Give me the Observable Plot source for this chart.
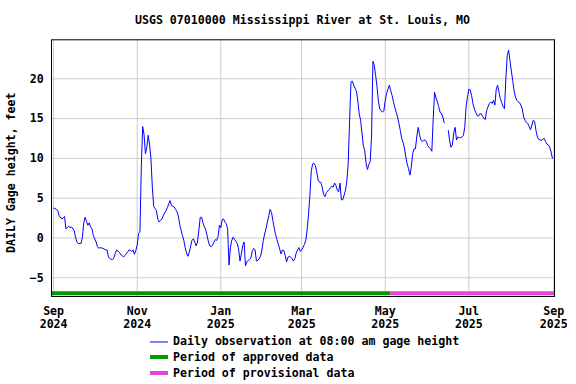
<!DOCTYPE html>
<html><head><meta charset="utf-8">
<script src="https://cdn.jsdelivr.net/npm/d3@7"></script>
<script src="https://cdn.jsdelivr.net/npm/@observablehq/plot@0.6"></script>
<style>
body{margin:0;background:#fff;}
#wrap{width:576px;height:384px;position:relative;overflow:hidden;background:#fff;
  font-family:"DejaVu Sans Mono",monospace;font-weight:bold;font-size:11.6px;color:#000}
#title{position:absolute;left:51px;width:503px;top:13px;line-height:14px;text-align:center;white-space:nowrap}
#chart{position:absolute;left:0;top:0}
#legend{position:absolute;left:150px;top:333px}
.row{height:16px;display:flex;align-items:center;white-space:nowrap}
.sw{width:18px;margin-right:5px}
</style></head>
<body>
<div id="wrap">
  <div id="chart"></div>
  <div id="title"></div>
  <div id="legend"></div>
</div>
<script>
const titleText = "USGS 07010000 Mississippi River at St. Louis, MO";
const yLabel = "DAILY Gage height, feet";

// days since 2024-09-01 and daily gage height (feet); null = missing record
const dayIndex = [0,1,3,4,6,7,8,9,10,11,12,13,15,16,17,18,20,21,22,23,24,25,26,27,28,29,31,32,33,34,36,38,39,40,42,43,44,45,46,48,49,50,51,52,54,55,56,57,58,59,60,61,62,63,64,65,66,67,68,69,70,71,72,73,74,75,76,77,78,79,80,82,83,84,85,86,88,89,90,91,92,
93,94,95,96,97,98,99,100,101,102,103,104,105,106,107,108,109,110,111,112,113,114,115,116,117,118,119,120,121,122,123,124,125,126,127,128,129,130,131,132,133,134,135,136,137,138,139,140,141,142,143,144,145,146,147,148,149,150,151,152,153,154,155,156,157,158,159,160,161,162,163,164,165,166,167,168,169,170,171,172,173,174,175,176,177,178,179,
180,181,182,183,184,185,186,187,188,189,190,191,192,193,194,195,196,197,198,199,200,201,202,203,204,205,206,207,208,209,210,211,212,213,214,215,216,217,218,219,220,221,222,223,224,225,226,227,228,229,230,231,232,233,234,235,236,237,238,239,240,241,242,243,244,245,246,247,248,249,250,251,252,253,254,255,256,257,258,259,260,261,262,263,264,265,266,267,268,269,270,271,272,273,274,275,276,277,278,279,280,281,282,283,284,285,286,287,
288,289,290,291,292,293,294,295,296,297,298,299,300,301,302,303,304,305,306,307,308,309,310,311,312,313,314,315,316,317,318,319,320,321,322,323,324,325,326,327,328,329,330,331,332,333,334,335,336,337,338,339,340,341,342,343,344,345,346,347,348,349,350,351,352,353,354,355,356,357,358,359,360,361,362,363,364];
const gageFeet = [3.75,3.7,3.45,2.8,2.4,2.5,2.7,1.15,1.3,1.5,1.3,1.4,0.95,0.1,-0.5,-0.7,-0.7,0.1,1.9,2.6,2.1,1.6,1.9,1.4,1.15,0.3,-0.5,-1.1,-1.3,-1.2,-1.3,-1.5,-1.5,-2.4,-2.7,-2.7,-2.5,-1.95,-1.5,-1.8,-2.1,-2.2,-2.4,-2.2,-1.75,-1.5,-1.55,-1.7,-1.5,-2.05,-1.55,-0.9,0.6,0.75,9.0,14.0,13.0,10.6,11.4,12.9,11.8,10.0,6.5,4.0,3.7,3.45,2.4,2.0,2.2,2.4,2.8,3.45,3.8,4.3,4.7,4.1,3.9,3.6,3.3,2.75,1.7,
1.0,0.3,-0.3,-1.2,-1.9,-2.3,-1.8,-1.0,-0.3,-0.1,-0.5,-1.0,-0.5,1.0,2.6,2.6,1.9,1.4,1.0,0.3,-0.5,-1.0,-1.1,-0.9,-0.5,-0.2,-0.3,0.2,1.6,1.3,2.3,2.4,2.0,1.8,1.1,-3.4,-1.2,-0.3,0.1,-0.2,-0.4,-0.7,-1.4,-2.9,-2.0,-1.0,-0.5,-3.5,-3.0,-2.8,-2.7,-2.5,-1.6,-1.3,-1.5,-2.9,-2.8,-2.6,-2.3,-1.5,-0.3,0.5,1.2,2.0,2.8,3.6,3.2,2.2,1.2,0.4,-0.2,-0.8,-1.4,-2.0,-1.5,-1.6,-2.2,-3.0,-2.4,-2.3,-2.4,-2.6,-2.9,-2.6,-1.9,-1.5,-1.2,
-1.7,-1.5,-1.2,-0.8,-0.3,1.0,2.9,5.3,8.4,9.3,9.4,9.1,8.3,7.3,7.0,7.0,6.4,5.5,5.2,5.7,5.9,6.1,6.3,6.5,6.4,6.9,6.6,6.0,5.8,6.9,4.8,4.8,5.4,6.0,7.2,9.5,14.8,19.6,19.7,19.2,18.8,18.4,17.2,15.6,14.8,13.2,11.6,11.0,9.4,8.6,9.2,9.6,12.8,22.2,21.7,20.4,19.0,17.2,16.2,16.0,15.8,16.0,17.3,18.2,18.7,19.2,18.5,17.9,17.1,16.4,15.8,15.2,14.4,13.5,12.5,12.0,11.3,10.2,9.3,8.7,7.9,8.9,10.6,11.2,11.2,12.7,13.9,13.0,12.3,12.1,12.3,12.3,12.1,11.6,11.4,11.2,10.9,15.0,18.3,17.6,17.1,16.5,15.8,15.7,15.2,14.5,null,null,
13.5,12.2,11.4,11.7,13.2,13.9,12.3,12.7,12.6,12.6,12.7,12.9,13.9,16.5,17.7,18.7,18.6,17.9,16.9,16.2,15.8,15.4,15.3,15.6,15.6,15.3,15.0,14.9,16.0,16.5,16.9,17.1,16.9,17.3,16.7,18.7,19.2,18.3,17.5,17.0,16.5,16.25,20.0,22.9,23.6,22.3,21.0,19.8,18.5,17.7,17.3,17.1,17.0,16.7,16.2,15.2,14.8,14.5,14.4,14.0,13.6,14.2,14.8,14.6,13.5,12.7,12.4,12.3,12.3,12.4,12.5,12.1,11.8,11.7,11.4,10.8,10.0];

const tickDates = ["2024-09-01","2024-11-01","2025-01-01","2025-03-01","2025-05-01","2025-07-01","2025-09-01"];
const tickLabels = ["Sep\n2024","Nov\n2024","Jan\n2025","Mar\n2025","May\n2025","Jul\n2025","Sep\n2025"];
const yTicks = [-5,0,5,10,15,20];

const periodNames = ["Period of approved data","Period of provisional data"];
const periodStart = ["2024-08-30T11:00Z","2025-05-05T00:00Z"];
const periodEnd = ["2025-05-05T00:00Z","2025-09-01T12:00Z"];
const periodColors = ["#009a00","#e845d8"];
const lineName = "Daily observation at 08:00 am gage height";
const lineColor = "#0000ff";

const origin = Date.UTC(2024,8,1);
const rows = dayIndex.map((d,i)=>({date:new Date(origin + d*864e5), value:gageFeet[i]}));
const ticks = tickDates.map(s=>new Date(s+"T00:00Z"));
const labelOf = new Map(ticks.map((t,i)=>[+t,tickLabels[i]]));
const periods = periodNames.map((n,i)=>({name:n,start:new Date(periodStart[i]),end:new Date(periodEnd[i]),color:periodColors[i]}));

const chart = Plot.plot({
  width:576, height:332,
  marginTop:39.3, marginLeft:51, marginRight:22, marginBottom:36,
  style:{fontFamily:'"DejaVu Sans Mono", monospace', fontSize:"11.6px", fontWeight:"bold", color:"#000", background:"transparent"},
  x:{type:"utc", domain:[new Date("2024-08-30T11:00Z"), new Date("2025-09-01T12:00Z")]},
  y:{domain:[-7.35,24.9]},
  color:{type:"identity"},
  marks:[
    Plot.ruleY(yTicks,{stroke:"#cccccc",strokeWidth:1}),
    Plot.ruleX(ticks,{stroke:"#cccccc",strokeWidth:1}),
    Plot.line(rows,{x:"date",y:"value",stroke:lineColor,strokeWidth:1}),
    Plot.ruleY(periods,{y:-6.93,x1:"start",x2:"end",stroke:"color",strokeWidth:4}),
    Plot.frame({stroke:"#000",strokeWidth:1}),
    Plot.axisX(ticks,{tickSize:0,tickPadding:9.2,tickFormat:d=>labelOf.get(+d),lineHeight:1.15,label:null}),
    Plot.axisY(yTicks,{tickSize:0,tickPadding:7.7,label:null}),
    Plot.text([yLabel],{frameAnchor:"left",textAnchor:"middle",lineAnchor:"middle",rotate:-90,dx:-40.5,dy:4.6,text:d=>d})
  ]
});
document.getElementById("chart").append(chart);
document.getElementById("title").textContent = titleText;

const legend = document.getElementById("legend");
const items = [{name:lineName,color:lineColor,w:1}].concat(periods.map(p=>({name:p.name,color:p.color,w:4})));
for (const it of items){
  const r=document.createElement("div"); r.className="row";
  const s=document.createElement("div"); s.className="sw"; s.style.height=it.w+"px"; s.style.background=it.color;
  if (it.w===1) s.style.transform="translateY(0.5px)";
  const t=document.createElement("span"); t.textContent=it.name;
  r.append(s,t); legend.append(r);
}
</script>
</body></html>
